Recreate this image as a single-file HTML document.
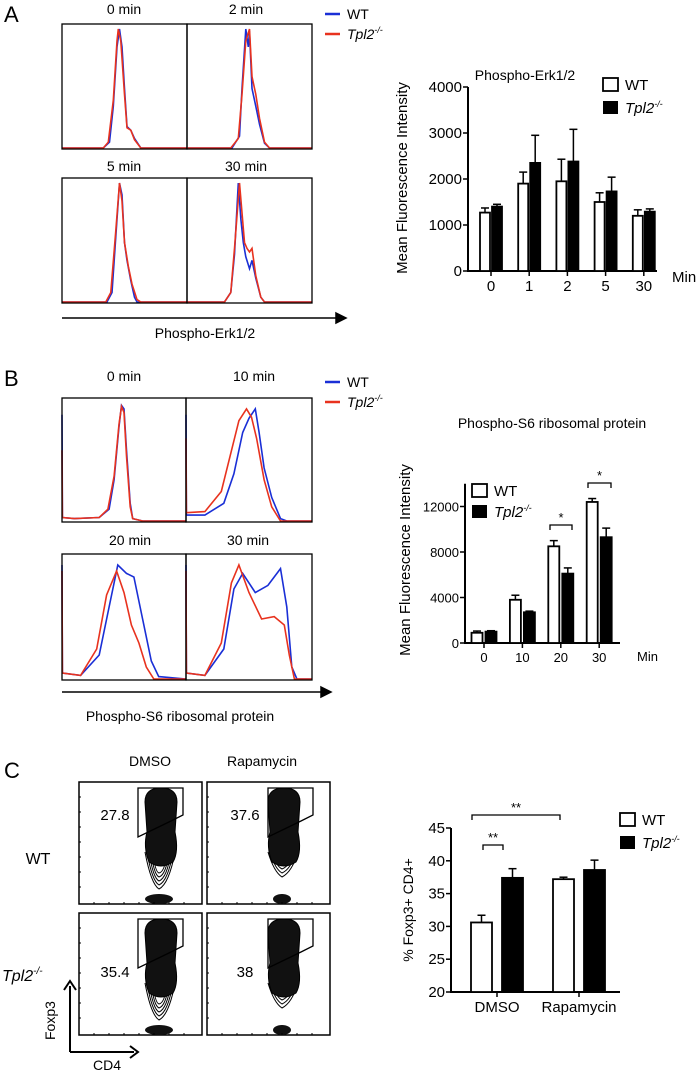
<!DOCTYPE html>
<html><head><meta charset="utf-8">
<style>
html,body{margin:0;padding:0;background:#fff;}
svg{display:block;font-family:"Liberation Sans",sans-serif;}
</style></head>
<body>
<svg id="fig" width="700" height="1072" viewBox="0 0 700 1072" xmlns="http://www.w3.org/2000/svg">
<g fill="#000" font-size="14">
<text x="4" y="22" font-size="22">A</text>
<text x="4" y="386" font-size="22">B</text>
<text x="4" y="778" font-size="22">C</text>
<text x="124" y="14" text-anchor="middle">0 min</text>
<text x="246" y="14" text-anchor="middle">2 min</text>
<text x="124" y="171" text-anchor="middle">5 min</text>
<text x="246" y="171" text-anchor="middle">30 min</text>
<text x="124" y="381" text-anchor="middle">0 min</text>
<text x="254" y="381" text-anchor="middle">10 min</text>
<text x="130" y="545" text-anchor="middle">20 min</text>
<text x="248" y="545" text-anchor="middle">30 min</text>
<text x="205" y="338" text-anchor="middle">Phospho-Erk1/2</text>
<text x="180" y="721" text-anchor="middle">Phospho-S6 ribosomal protein</text>
<text x="525" y="80" text-anchor="middle">Phospho-Erk1/2</text>
<text x="552" y="428" text-anchor="middle">Phospho-S6 ribosomal protein</text>
<text x="150" y="766" text-anchor="middle">DMSO</text>
<text x="262" y="766" text-anchor="middle">Rapamycin</text>
<text x="38" y="864" text-anchor="middle" font-size="16">WT</text>
<text x="2" y="981" font-size="16" font-style="italic">Tpl2<tspan font-size="10" dy="-7">-/-</tspan></text>
</g>
<g stroke="#000" stroke-width="1.5" fill="none">
<line x1="62" y1="318" x2="340" y2="318"/><path d="M336 313 L346 318 L336 323 Z" fill="#000"/>
<line x1="62" y1="692" x2="325" y2="692"/><path d="M321 687 L331 692 L321 697 Z" fill="#000"/>
</g>
<g id="hists"></g>
<g id="flow"></g>
<g id="chartA"></g>
<g id="chartB"></g>
<g id="chartC"></g>
</svg>
<script>
const NS="http://www.w3.org/2000/svg";
function mk(parent,tag,attrs,txt){const e=document.createElementNS(NS,tag);for(const k in attrs)e.setAttribute(k,attrs[k]);if(txt!==undefined)e.textContent=txt;parent.appendChild(e);return e;}

/* ---------- histogram data (x fraction, height fraction) ---------- */
const histAWT0=[[0,0],[0.33,0],[0.38,0.05],[0.41,0.35],[0.44,0.85],[0.46,1],[0.48,0.85],[0.5,0.5],[0.52,0.18],[0.55,0.15],[0.58,0.08],[0.63,0],[1,0]];
const histAKO0=[[0,0],[0.33,0],[0.37,0.05],[0.41,0.4],[0.44,0.9],[0.45,1],[0.47,0.9],[0.5,0.45],[0.52,0.17],[0.55,0.15],[0.58,0.07],[0.63,0],[1,0]];
const histAWT2=[[0,0],[0.36,0],[0.42,0.1],[0.44,0.5],[0.47,1],[0.49,0.85],[0.5,0.98],[0.52,0.5],[0.55,0.35],[0.58,0.2],[0.62,0.04],[0.66,0],[1,0]];
const histAKO2=[[0,0],[0.35,0],[0.41,0.08],[0.44,0.45],[0.47,0.9],[0.5,1],[0.52,0.6],[0.55,0.45],[0.58,0.25],[0.62,0.05],[0.66,0],[1,0]];
const histAWT5=[[0,0],[0.36,0],[0.4,0.08],[0.43,0.55],[0.46,1],[0.48,0.9],[0.5,0.5],[0.52,0.35],[0.55,0.18],[0.58,0.04],[0.6,0],[1,0]];
const histAKO5=[[0,0],[0.35,0],[0.39,0.08],[0.43,0.6],[0.46,1],[0.48,0.85],[0.5,0.5],[0.53,0.3],[0.56,0.15],[0.6,0.02],[0.63,0],[1,0]];
const histAWT30=[[0,0],[0.3,0],[0.35,0.08],[0.38,0.4],[0.41,1],[0.43,0.7],[0.45,0.5],[0.47,0.38],[0.5,0.28],[0.52,0.35],[0.55,0.2],[0.59,0.04],[0.62,0],[1,0]];
const histAKO30=[[0,0],[0.3,0],[0.35,0.08],[0.38,0.45],[0.42,1],[0.44,0.75],[0.46,0.5],[0.48,0.45],[0.5,0.42],[0.52,0.45],[0.55,0.22],[0.59,0.04],[0.62,0],[1,0]];
const histBWT0=[[0,0.9],[0.003,0.03],[0.1,0.02],[0.3,0.03],[0.38,0.1],[0.42,0.35],[0.46,0.8],[0.48,0.98],[0.5,0.95],[0.52,0.6],[0.55,0.15],[0.57,0.02],[0.65,0],[1,0]];
const histBKO0=[[0,0.6],[0.003,0.03],[0.1,0.02],[0.3,0.03],[0.37,0.1],[0.42,0.38],[0.46,0.82],[0.48,0.97],[0.5,0.92],[0.52,0.55],[0.55,0.12],[0.57,0.02],[0.65,0],[1,0]];
const histBWT10=[[0,0.9],[0.003,0.05],[0.15,0.05],[0.3,0.15],[0.38,0.4],[0.45,0.75],[0.5,0.87],[0.55,0.95],[0.58,0.75],[0.62,0.45],[0.68,0.2],[0.75,0.02],[0.8,0],[1,0]];
const histBKO10=[[0,0.7],[0.003,0.07],[0.15,0.08],[0.28,0.25],[0.35,0.55],[0.42,0.85],[0.48,0.95],[0.52,0.88],[0.56,0.7],[0.62,0.35],[0.68,0.12],[0.75,0],[1,0]];
const histBWT20=[[0,0.95],[0.003,0.05],[0.15,0.03],[0.3,0.2],[0.38,0.6],[0.45,0.95],[0.52,0.88],[0.58,0.85],[0.65,0.5],[0.72,0.15],[0.78,0.02],[1,0]];
const histBKO20=[[0,0.9],[0.003,0.05],[0.15,0.03],[0.28,0.25],[0.36,0.7],[0.44,0.9],[0.5,0.72],[0.56,0.45],[0.62,0.3],[0.68,0.1],[0.74,0],[1,0]];
const histBWT30=[[0,0.95],[0.003,0.05],[0.15,0.03],[0.3,0.25],[0.38,0.75],[0.45,0.88],[0.55,0.72],[0.65,0.78],[0.75,0.92],[0.8,0.6],[0.84,0.1],[0.88,0],[1,0]];
const histBKO30=[[0,0.9],[0.003,0.05],[0.15,0.03],[0.28,0.3],[0.36,0.8],[0.42,0.95],[0.5,0.72],[0.6,0.5],[0.7,0.52],[0.78,0.45],[0.82,0.2],[0.86,0],[1,0]];

const boxes=[
 {x:62,y:24,w:125,h:125,wt:histAWT0,ko:histAKO0,n:'hist-a-0min'},
 {x:187,y:24,w:125,h:125,wt:histAWT2,ko:histAKO2,n:'hist-a-2min'},
 {x:62,y:178,w:125,h:125,wt:histAWT5,ko:histAKO5,n:'hist-a-5min'},
 {x:187,y:178,w:125,h:125,wt:histAWT30,ko:histAKO30,n:'hist-a-30min'},
 {x:62,y:398,w:124,h:124,wt:histBWT0,ko:histBKO0,n:'hist-b-0min'},
 {x:186,y:398,w:126,h:124,wt:histBWT10,ko:histBKO10,n:'hist-b-10min'},
 {x:62,y:554,w:124,h:126,wt:histBWT20,ko:histBKO20,n:'hist-b-20min'},
 {x:186,y:554,w:126,h:126,wt:histBWT30,ko:histBKO30,n:'hist-b-30min'}
];
const H=document.getElementById('hists');
boxes.forEach(b=>{
  const g=mk(H,'g',{});
  
  
  const top=b.y+5,hh=b.h-6;
  const path=pts=>pts.map((p,i)=>(i?'L':'M')+(b.x+p[0]*b.w).toFixed(1)+' '+(b.y+b.h-1-p[1]*hh).toFixed(1)).join(' ');
  const wl=mk(g,'path',{d:path(b.wt),fill:'none',stroke:'#1a2fd6','stroke-width':1.6});
  
  
  const kl=mk(g,'path',{d:path(b.ko),fill:'none',stroke:'#e8321e','stroke-width':1.6});
  
  
  const r=mk(g,'rect',{x:b.x,y:b.y,width:b.w,height:b.h,fill:'none',stroke:'#000','stroke-width':1.3});
  
  
});
/* histogram legends */
[[325,14],[325,382]].forEach((p,i)=>{
  const g=mk(H,'g',{});
  
  
  mk(g,'line',{x1:p[0],y1:p[1],x2:p[0]+15,y2:p[1],stroke:'#1a2fd6','stroke-width':2.5});
  mk(g,'text',{x:p[0]+22,y:p[1]+5,'font-size':14},'WT');
  mk(g,'line',{x1:p[0],y1:p[1]+20,x2:p[0]+15,y2:p[1]+20,stroke:'#e8321e','stroke-width':2.5});
  const t=mk(g,'text',{x:p[0]+22,y:p[1]+25,'font-size':14,'font-style':'italic'},'Tpl2');
  mk(t,'tspan',{'font-size':9,dy:-6},'-/-');
});

/* ---------- flow contour plots ---------- */
const F=document.getElementById('flow');
const flowLabels=['27.8','37.6','35.4','38'];
const fboxes=[[79,782],[207,782],[79,913],[207,913]];
fboxes.forEach((p,i)=>{
  const g=mk(F,'g',{});
  
  
  const x=p[0],y=p[1],w=123,h=122;
  mk(g,'rect',{x,y,width:w,height:h,fill:'#fff',stroke:'#000','stroke-width':1.5});
  const cx=x+(i%2?77:82), tail=(i%2?0:12);
  // tail contours
  for(let k=0;k<5;k++){
    mk(g,'path',{d:`M${cx-16+k*2} ${y+70} Q${cx-10+k} ${y+90+tail-k*3} ${cx-2} ${y+95+tail-k*4} Q${cx+8-k} ${y+90+tail-k*3} ${cx+14-k*2} ${y+70}`,fill:'none',stroke:'#000','stroke-width':1});
  }
  mk(g,'path',{d:`M${cx-16} ${y+20} Q${cx-16} ${y+6} ${cx} ${y+6} Q${cx+16} ${y+6} ${cx+16} ${y+20} L${cx+14} ${y+50} Q${cx+18} ${y+70} ${cx+12} ${y+80} Q${cx} ${y+88} ${cx-12} ${y+80} Q${cx-18} ${y+65} ${cx-14} ${y+50} Z`,fill:'#111',stroke:'#000','stroke-width':1});
  mk(g,'ellipse',{cx:cx-2,cy:y+h-5,rx:i%2?9:14,ry:5,fill:'#111'});
  // gate
  const gx=x+(i%2?61:59);
  mk(g,'path',{d:`M${gx} ${y+6} L${gx+45} ${y+6} L${gx+45} ${y+33} L${gx+33} ${y+39} L${gx} ${y+55} Z`,fill:'none',stroke:'#000','stroke-width':1.3});
  // axis ticks
  for(let k=1;k<8;k++){mk(g,'line',{x1:x+k*15,y1:y+h,x2:x+k*15,y2:y+h-2,stroke:'#000'});mk(g,'line',{x1:x,y1:y+k*15,x2:x+2,y2:y+k*15,stroke:'#000'});}
  const t=mk(g,'text',{x:x+(i%2?38:36),y:y+(i<2?38:64),'text-anchor':'middle','font-size':15},flowLabels[i]);
  
  
});
{
  const g=mk(F,'g',{});
  
  
  mk(g,'path',{d:'M70 1052 L70 986 M70 1052 L134 1052',stroke:'#000','stroke-width':2,fill:'none'});
  mk(g,'path',{d:'M64 990 L70 981 L76 990 M130 1046 L138 1052 L130 1058',stroke:'#000','stroke-width':2,fill:'none'});
  mk(g,'text',{x:93,y:1070,'font-size':14},'CD4');
  mk(g,'text',{transform:'translate(55,1040) rotate(-90)','font-size':14},'Foxp3');
}

/* ---------- bar chart helpers ---------- */
function barChart(cfg){
  const G=document.getElementById(cfg.id);
  const yS=v=>cfg.y0-(v-cfg.vmin)*cfg.ppu;
  const ax=mk(G,'path',{d:`M${cfg.ax} ${yS(cfg.vmax)} L${cfg.ax} ${cfg.y0} L${cfg.axEnd} ${cfg.y0}`,stroke:'#000','stroke-width':2,fill:'none'});
  
  
  cfg.ticks.forEach(t=>{
    mk(G,'line',{x1:cfg.ax-5,y1:yS(t),x2:cfg.ax,y2:yS(t),stroke:'#000','stroke-width':1.5});
    const tl=mk(G,'text',{x:cfg.ax-6,y:yS(t)+5,'text-anchor':'end','font-size':cfg.fs},String(t));
    
    
  });
  cfg.cats.forEach((c,i)=>{
    const cx=cfg.c0+i*cfg.step;
    if(cfg.catTicks) mk(G,'line',{x1:cx,y1:cfg.y0,x2:cx,y2:cfg.y0+5,stroke:'#000','stroke-width':1.5});
    const xl=mk(G,'text',{x:cx,y:cfg.y0+cfg.labOff,'text-anchor':'middle','font-size':cfg.fs},c);
    
    
    [[cfg.wt,cfg.wtE,'#fff',-1],[cfg.ko,cfg.koE,'#000',1]].forEach(s=>{
      const bx=s[3]<0?cx-cfg.gap/2-cfg.bw:cx+cfg.gap/2;
      const mid=bx+cfg.bw/2;
      const el=mk(G,'line',{x1:mid,y1:yS(s[1][i]),x2:mid,y2:yS(s[0][i]),stroke:'#000','stroke-width':1.5});
      
      
      mk(G,'line',{x1:mid-4,y1:yS(s[1][i]),x2:mid+4,y2:yS(s[1][i]),stroke:'#000','stroke-width':1.5});
      const r=mk(G,'rect',{x:bx,y:yS(s[0][i]),width:cfg.bw,height:cfg.y0-yS(s[0][i]),fill:s[2],stroke:'#000','stroke-width':1.8});
      
      
    });
  });
  const yt=mk(G,'text',{transform:`translate(${cfg.ytx},${cfg.yty}) rotate(-90)`,'text-anchor':'middle','font-size':cfg.yfs},cfg.ytitle);
  
  
  const lg=mk(G,'g',{});
  
  
  mk(lg,'rect',{x:cfg.lx,y:cfg.ly,width:15,height:13,fill:'#fff',stroke:'#000','stroke-width':1.8});
  mk(lg,'text',{x:cfg.lx+22,y:cfg.ly+12,'font-size':cfg.lfs},'WT');
  mk(lg,'rect',{x:cfg.lx,y:cfg.ly+cfg.ld,width:15,height:13,fill:'#000'});
  const t=mk(lg,'text',{x:cfg.lx+22,y:cfg.ly+cfg.ld+12,'font-size':cfg.lfs,'font-style':'italic'},'Tpl2');
  mk(t,'tspan',{'font-size':9,dy:-6},'-/-');
  if(cfg.minLabel){const m=mk(G,'text',{x:cfg.minLabel[0],y:cfg.minLabel[1],'font-size':cfg.fs},'Min');}
  (cfg.brackets||[]).forEach(b=>{
    const bg=mk(G,'g',{});
    
    
    mk(bg,'path',{d:`M${b[0]} ${b[2]+5} L${b[0]} ${b[2]} L${b[1]} ${b[2]} L${b[1]} ${b[2]+5}`,stroke:'#000','stroke-width':1.3,fill:'none'});
    mk(bg,'text',{x:(b[0]+b[1])/2,y:b[2]-3,'text-anchor':'middle','font-size':13},b[3]);
  });
  return yS;
}

/* Panel A data */
const catsA=['0','1','2','5','30'];
const wtA=[1270,1900,1950,1500,1200];
const koA=[1400,2350,2380,1730,1290];
const wtAerr=[1370,2150,2430,1700,1330];
const koAerr=[1450,2950,3080,2040,1350];
const ticksA=[0,1000,2000,3000,4000];
barChart({id:'chartA',cats:catsA,wt:wtA,ko:koA,wtE:wtAerr,koE:koAerr,ticks:ticksA,vmin:0,vmax:4000,
 y0:271,ppu:0.046,ax:468,axEnd:657,c0:491,step:38.2,bw:10,gap:2,catTicks:true,labOff:20,fs:15,
 ytitle:'Mean Fluorescence Intensity',ytx:407,yty:178,yfs:15,lx:603,ly:78,ld:23,lfs:15,minLabel:[672,282]});

/* Panel B data */
const catsB=['0','10','20','30'];
const wtB=[900,3800,8500,12400];
const koB=[1000,2700,6100,9300];
const wtBerr=[1050,4200,9000,12700];
const koBerr=[1080,2800,6600,10100];
const ticksB=[0,4000,8000,12000];
barChart({id:'chartB',cats:catsB,wt:wtB,ko:koB,wtE:wtBerr,koE:koBerr,ticks:ticksB,vmin:0,vmax:14000,
 y0:643,ppu:45.5/4000,ax:465,axEnd:620,c0:484,step:38.4,bw:11,gap:3,catTicks:true,labOff:19,fs:13,
 ytitle:'Mean Fluorescence Intensity',ytx:410,yty:560,yfs:15,lx:472,ly:484,ld:21,lfs:15,minLabel:[637,661],
 brackets:[[550,572,525,'*'],[588,611,483,'*']]});

/* Panel C data */
const catsC=['DMSO','Rapamycin'];
const wtC=[30.6,37.2];
const koC=[37.4,38.6];
const wtCerr=[31.7,37.5];
const koCerr=[38.8,40.1];
const ticksC=[20,25,30,35,40,45];
barChart({id:'chartC',cats:catsC,wt:wtC,ko:koC,wtE:wtCerr,koE:koCerr,ticks:ticksC,vmin:20,vmax:45,
 y0:992,ppu:6.56,ax:451,axEnd:620,c0:497,step:82,bw:21,gap:10,catTicks:true,labOff:20,fs:15,
 ytitle:'% Foxp3+ CD4+',ytx:413,yty:910,yfs:14,lx:620,ly:813,ld:23,lfs:15,
 brackets:[[483,503,845,'**'],[472,560,815,'**']]});
</script>
</body></html>
